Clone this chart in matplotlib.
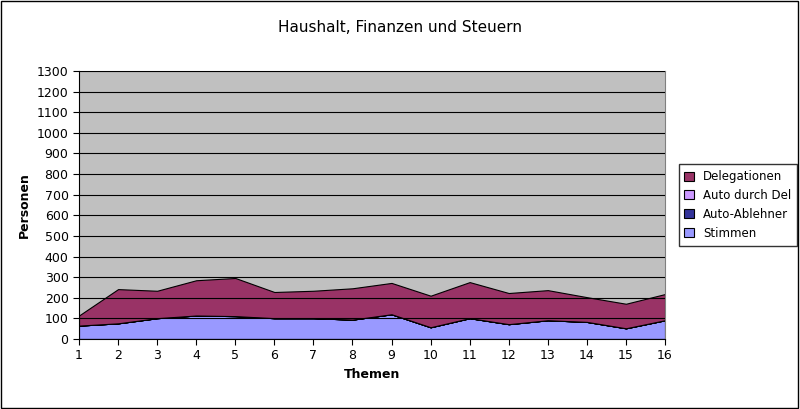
import matplotlib
matplotlib.use("Agg")
import matplotlib.pyplot as plt
import numpy as np

themen = list(range(1, 17))
stimmen = [65, 76, 101, 114, 111, 101, 101, 94, 120, 57, 101, 72, 91, 83, 52, 91]
auto_ablehner = [0]*16
auto_del = [0]*16
total = [114, 242, 234, 285, 296, 228, 234, 246, 272, 210, 276, 223, 237, 203, 171, 218]
delegationen = [t - s for t, s in zip(total, stimmen)]

fig = plt.figure(figsize=(8, 4.09), dpi=100)
fig.patch.set_facecolor("white")
ax = fig.add_axes([79/800, 1-339/409, 586/800, 268/409])
ax.set_facecolor("#c0c0c0")
ax.stackplot(themen, stimmen, auto_ablehner, auto_del, delegationen,
             colors=["#9999ff", "#333399", "#cc99ff", "#993366"],
             edgecolor="black", linewidth=0.8,
             labels=["Stimmen", "Auto-Ablehner", "Auto durch Del", "Delegationen"])
ax.set_xlim(1, 16)
ax.set_ylim(0, 1300)
ax.set_yticks(range(0, 1301, 100))
ax.set_xticks(themen)
ax.yaxis.grid(True, color="black", linewidth=0.8)
ax.set_axisbelow(False)
ax.tick_params(labelsize=9, length=4, direction="out")
ax.set_xlabel("Themen", fontsize=9, fontweight="bold")
ax.set_ylabel("Personen", fontsize=9, fontweight="bold")
for s in ax.spines.values():
    s.set_color("#808080")
ax.spines["left"].set_color("black"); ax.spines["bottom"].set_color("black")
fig.text(400/800, 1-27/409, "Haushalt, Finanzen und Steuern", ha="center", va="center", fontsize=11)
h, l = ax.get_legend_handles_labels()
leg = fig.legend(h[::-1], l[::-1], loc="center", bbox_to_anchor=(738/800, 1-205/409),
                 fontsize=8.5, frameon=True, fancybox=False, edgecolor="black",
                 handlelength=0.8, handleheight=0.8, labelspacing=0.5, borderpad=0.5)
border = plt.Rectangle((0.001, 0.002), 0.997, 0.995, transform=fig.transFigure,
                       fill=False, edgecolor="black", linewidth=1)
fig.patches.append(border)
fig.savefig("out.png", dpi=100)
